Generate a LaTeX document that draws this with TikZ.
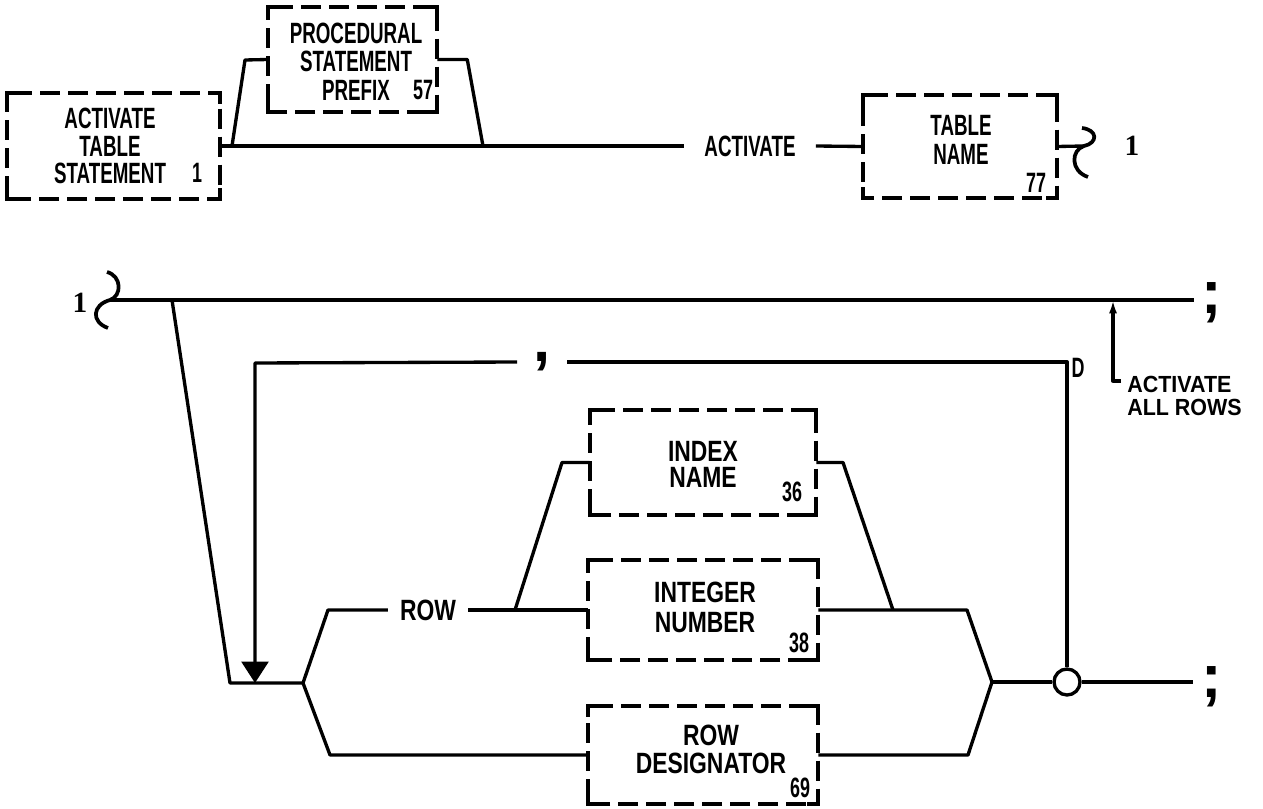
\documentclass[tikz,border=0pt]{standalone}
\usepackage{fontspec}
\setmainfont{Liberation Sans}
\newfontfamily\fa[FakeStretch=0.64]{Liberation Sans}
\newfontfamily\fb[FakeStretch=0.78]{Liberation Sans}
\newfontfamily\fc[FakeStretch=0.92]{Liberation Sans}
\newfontfamily\fs{Liberation Serif}
\usetikzlibrary{arrows.meta}
\newcommand\dbord[1]{%
  \draw[bline,dash pattern=on 15pt off 6pt,dash phase=-4pt] (#1.north west) -- (#1.north east) -- (#1.south east) -- (#1.south west) -- cycle;
  \draw[bline,line cap=rect] ([yshift=-7pt]#1.north west) -- (#1.north west) -- ([xshift=7pt]#1.north west);
  \draw[bline,line cap=rect] ([xshift=-7pt]#1.north east) -- (#1.north east) -- ([yshift=-7pt]#1.north east);
  \draw[bline,line cap=rect] ([yshift=7pt]#1.south east) -- (#1.south east) -- ([xshift=-7pt]#1.south east);
  \draw[bline,line cap=rect] ([xshift=7pt]#1.south west) -- (#1.south west) -- ([yshift=7pt]#1.south west);
}
\tikzset{
  conn/.style={line width=2.5pt,line join=round},
  bline/.style={line width=3pt},
  dbox/.style 2 args={rectangle,inner sep=0pt,minimum width=#1,minimum height=#2},
  lbla/.style={font=\fa\bfseries\fontsize{22}{#1}\selectfont,align=center,inner sep=0pt},
  lblb/.style={font=\fb\bfseries\fontsize{22}{#1}\selectfont,align=center,inner sep=0pt},
  numl/.style={font=\fa\bfseries\fontsize{21}{21}\selectfont,inner sep=0pt},
  kwa/.style={font=\fa\bfseries\fontsize{22}{22}\selectfont,inner ysep=0pt},
  kwb/.style={font=\fb\bfseries\fontsize{22}{22}\selectfont,inner ysep=0pt},
  punct/.style={font=\bfseries\fontsize{46}{46}\selectfont,inner sep=0pt},
  conlbl/.style={font=\fs\bfseries\fontsize{22}{22}\selectfont,inner sep=0pt},
}
\begin{document}
\begin{tikzpicture}[x=0.75pt,y=-0.75pt]
\useasboundingbox (0,0) rectangle (1263,809);
% ---------- boxes ----------
\node[dbox={159.75pt}{79.5pt}] (ats) at (113.5,146) {};
\node[dbox={126.75pt}{78.75pt}] (psp) at (352.5,59.5) {};
\node[dbox={145.5pt}{77.25pt}] (tn) at (960,146.5) {};
\node[dbox={169.5pt}{78.75pt}] (idx) at (703,462.5) {};
\node[dbox={172.5pt}{75pt}] (int) at (703,610) {};
\node[dbox={172.5pt}{73.5pt}] (rd) at (703,755) {};
\dbord{ats}\dbord{psp}\dbord{tn}\dbord{idx}\dbord{int}\dbord{rd}
% ---------- box texts ----------
\node[lbla=20.5pt] (atsT) at (110,146) {ACTIVATE\\TABLE\\STATEMENT};
\node[lbla=21.5pt] (pspT) at (356,61.5) {PROCEDURAL\\STATEMENT\\PREFIX};
\node[lbla=22pt] (tnT) at (961,140) {TABLE\\NAME};
\node[lblb=20pt] (idxT) at (703,464.5) {INDEX\\NAME};
\node[lblb=22pt] (intT) at (705,607.5) {INTEGER\\NUMBER};
\node[lblb=20.5pt] (rdT) at (711,749.5) {ROW\\DESIGNATOR};
\node[numl] (n1) at (197,173) {1};
\node[numl] (n57) at (423,90) {57};
\node[numl] (n77) at (1036,183) {77};
\node[numl] (n36) at (792,492) {36};
\node[numl] (n38) at (799,643) {38};
\node[numl] (n69) at (800,788) {69};
% ---------- keywords / labels ----------
\node[kwa,inner xsep=15pt] (kwAct) at (750,146) {ACTIVATE};
\node[kwb,inner xsep=9pt] (kwRow) at (428,610) {ROW};
\node[numl] (dlbl) at (1078,368) {D};
\node[font=\fc\bfseries\fontsize{17.5}{17}\selectfont,align=left,inner sep=0pt,anchor=west] (allrows) at (1127,396) {ACTIVATE\\ALL ROWS};
\node[conlbl] (one1) at (1132,146) {1};
\node[conlbl] (one2) at (80,303) {1};
\node[punct] (sc1) at (1212,303) {;};
\node[punct] (sc2) at (1212,687) {;};
\node[punct,inner xsep=12pt] (cm) at (542,362) {,};
\node[circle,draw,line width=2.5pt,minimum size=19.5pt,inner sep=0pt] (circ) at (1067,682) {};
% ---------- coordinates ----------
\coordinate (j1) at (232,146);
\coordinate (j2) at (483,146);
\coordinate (br1) at (1084,146);
\coordinate (br2) at (110,300);
\coordinate (t1) at (172,300);
\coordinate (e1) at (1194,300);
\coordinate (f1) at (303,683);
\coordinate (r1) at (515,610);
\coordinate (m) at (992,682);
\coordinate (e2) at (1193,682);
\coordinate (ar0) at (1121,381);
\coordinate (ar1) at (1113,300);
% ---------- top row ----------
\draw[conn] (ats.east) -- (kwAct.west);
\draw[conn] (j1) -- ++(13,-86) -- (psp.west);
\draw[conn] (psp.east) -- ++(30,0) -- (j2);
\draw[conn] (kwAct.east) -- (tn.west);
\draw[conn] (tn.east) -- (br1);
\draw[conn,line width=2.8pt] (1082,128) .. controls (1098,130) and (1098,143) .. (br1) .. controls (1071,150) and (1070,171) .. (1088,177);
% ---------- second part ----------
\draw[conn,line width=2.8pt] (107,272) .. controls (122,276) and (122,296) .. (br2) .. controls (92,305) and (91,322) .. (108,328);
\draw[conn] (br2) -- (e1);
\draw[conn] (t1) -- (230,683) -- (f1);
\draw[conn] (circ.north) -- (circ.north |- cm) -- (cm.east);
\draw[conn,-{Triangle[width=20pt,length=16pt]}] (cm.west) -- (255,363) -- (255,683);
\draw[conn] (f1) -- (328,610) -- (kwRow.west);
\draw[conn] (kwRow.east) -- (int.west);
\draw[conn] (r1) -- (562,462.5) -- (idx.west);
\draw[conn] (f1) -- (330,755) -- (rd.west);
\draw[conn] (int.east) -- (967,610) -- (m);
\draw[conn] (idx.east) -- (843,462.5) -- (893,610);
\draw[conn] (rd.east) -- (968,755) -- (m);
\draw[conn] (m) -- (circ.west);
\draw[conn] (circ.east) -- (e2);
\draw[conn,-{Latex[length=10pt,width=6pt]}] (ar0) -- (1113,381) -- (ar1);
\end{tikzpicture}
\end{document}
